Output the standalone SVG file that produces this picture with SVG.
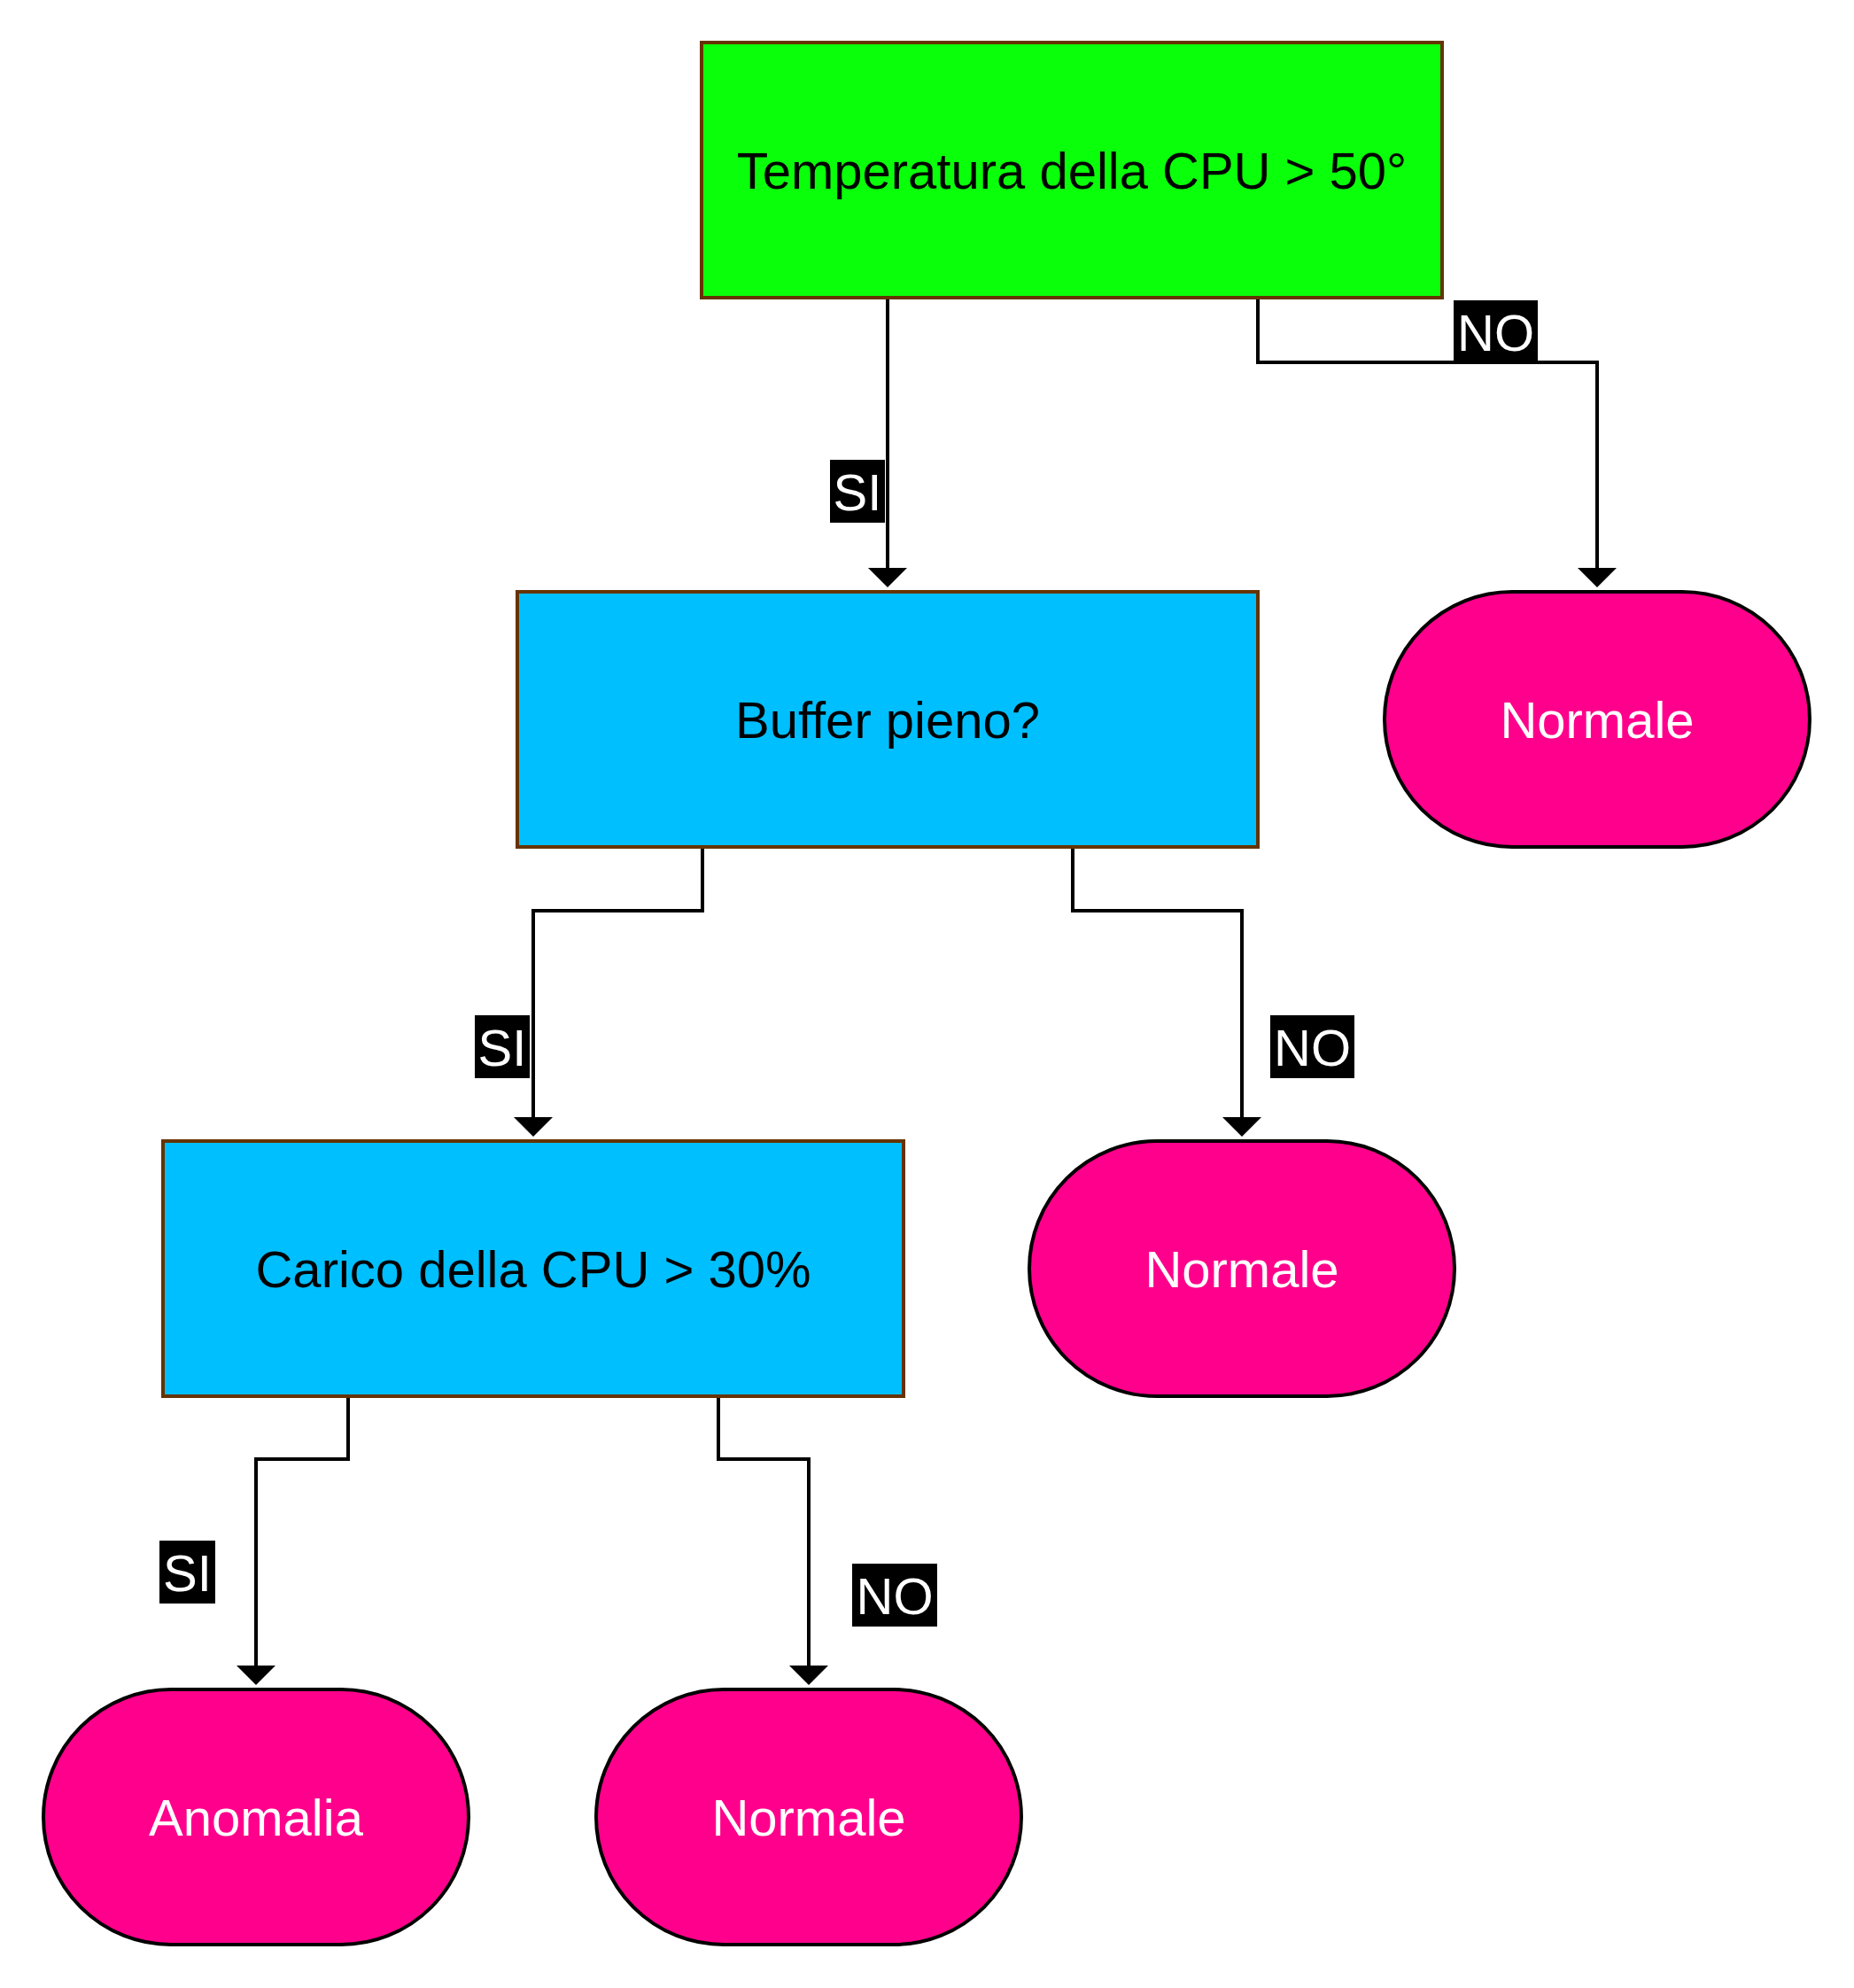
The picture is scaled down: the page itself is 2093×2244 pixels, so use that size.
<svg xmlns="http://www.w3.org/2000/svg" width="2093" height="2244" viewBox="0 0 2093 2244">
<style>
.dec{stroke:#663300;stroke-width:4}
.leaf{fill:#FF008C;stroke:#000;stroke-width:4}
.t{font-family:"Liberation Sans",Arial,sans-serif;font-size:58px;text-anchor:middle}
.dark{fill:#000}
.light{fill:#fff}
.edge{fill:none;stroke:#000;stroke-width:4}
.head{fill:#000}
.lbg{fill:#000}
</style>
<rect width="2093" height="2244" fill="#fff"/>
<g id="connectors">
  <g id="e1">
    <path class="edge" d="M1002 336 V642"/>
    <polygon class="head" points="980,641 1024,641 1002,663"/>
    <rect class="lbg" x="937" y="519" width="62" height="71"/>
    <text class="t light" x="968" y="576">SI</text>
  </g>
  <g id="e2">
    <path class="edge" d="M1420 336 V409 H1803 V642"/>
    <polygon class="head" points="1781,641 1825,641 1803,663"/>
    <rect class="lbg" x="1641" y="339" width="95" height="72"/>
    <text class="t light" x="1688.5" y="396">NO</text>
  </g>
  <g id="e3">
    <path class="edge" d="M793 956 V1028 H602 V1262"/>
    <polygon class="head" points="580,1261 624,1261 602,1283"/>
    <rect class="lbg" x="536" y="1146" width="62" height="71"/>
    <text class="t light" x="567" y="1203">SI</text>
  </g>
  <g id="e4">
    <path class="edge" d="M1211 956 V1028 H1402 V1262"/>
    <polygon class="head" points="1380,1261 1424,1261 1402,1283"/>
    <rect class="lbg" x="1434" y="1146" width="95" height="71"/>
    <text class="t light" x="1481.5" y="1203">NO</text>
  </g>
  <g id="e5">
    <path class="edge" d="M393 1576 V1647 H289 V1881"/>
    <polygon class="head" points="267,1880 311,1880 289,1902"/>
    <rect class="lbg" x="180" y="1739" width="63" height="71"/>
    <text class="t light" x="211.5" y="1796">SI</text>
  </g>
  <g id="e6">
    <path class="edge" d="M811 1576 V1647 H913 V1881"/>
    <polygon class="head" points="891,1880 935,1880 913,1902"/>
    <rect class="lbg" x="962" y="1765" width="96" height="71"/>
    <text class="t light" x="1010" y="1822">NO</text>
  </g>
</g>
<g id="n1">
  <rect class="dec" x="792" y="48" width="836" height="288" fill="#0AFF0A"/>
  <text class="t dark" x="1210" y="213">Temperatura della CPU &gt; 50°</text>
</g>
<g id="n2">
  <rect class="dec" x="584" y="668" width="836" height="288" fill="#00BFFF"/>
  <text class="t dark" x="1002" y="833">Buffer pieno?</text>
</g>
<g id="n3">
  <rect class="leaf" x="1563" y="668" width="480" height="288" rx="144" ry="144"/>
  <text class="t light" x="1803" y="833">Normale</text>
</g>
<g id="n4">
  <rect class="dec" x="184" y="1288" width="836" height="288" fill="#00BFFF"/>
  <text class="t dark" x="602" y="1453">Carico della CPU &gt; 30%</text>
</g>
<g id="n5">
  <rect class="leaf" x="1162" y="1288" width="480" height="288" rx="144" ry="144"/>
  <text class="t light" x="1402" y="1453">Normale</text>
</g>
<g id="n6">
  <rect class="leaf" x="49" y="1907" width="480" height="288" rx="144" ry="144"/>
  <text class="t light" x="289" y="2072">Anomalia</text>
</g>
<g id="n7">
  <rect class="leaf" x="673" y="1907" width="480" height="288" rx="144" ry="144"/>
  <text class="t light" x="913" y="2072">Normale</text>
</g>
</svg>
